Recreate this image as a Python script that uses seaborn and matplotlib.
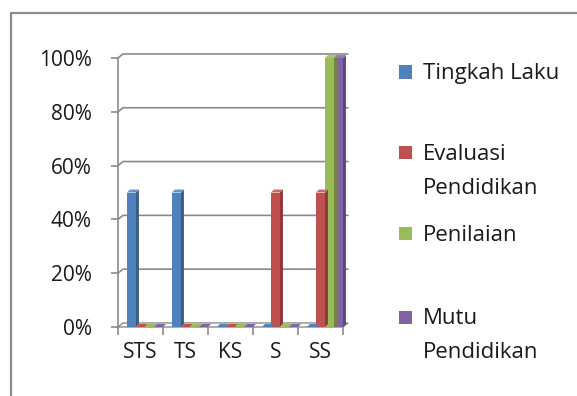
import matplotlib
matplotlib.use("Agg")
import matplotlib.pyplot as plt
from matplotlib.lines import Line2D
from matplotlib.patches import Polygon, Rectangle
from matplotlib.colors import to_rgb
import numpy as np
import pandas as pd
import seaborn as sns

# Survey answers per category (percent of respondents)
categories = ["STS", "TS", "KS", "S", "SS"]
series_names = ["Tingkah Laku", "Evaluasi\nPendidikan", "Penilaian", "Mutu\nPendidikan"]
tingkah_laku = [50, 50, 0, 0, 0]
evaluasi_pendidikan = [0, 0, 0, 50, 50]
penilaian = [0, 0, 0, 0, 100]
mutu_pendidikan = [0, 0, 0, 0, 100]
series_values = [tingkah_laku, evaluasi_pendidikan, penilaian, mutu_pendidikan]
colors = ["#4F81BD", "#C0504D", "#9BBB59", "#8064A2"]
y_ticks = [0, 20, 40, 60, 80, 100]
y_tick_labels = [f"{v}%" for v in y_ticks]

rows = []
for name, vals in zip(series_names, series_values):
    for cat, v in zip(categories, vals):
        rows.append({"kategori": cat, "nilai": v, "seri": name})
df = pd.DataFrame(rows)

sns.set_theme(style="white")
plt.rcParams["font.family"] = ["Open Sans", "DejaVu Sans"]

W, H = 577, 396
fig = plt.figure(figsize=(W / 100, H / 100), dpi=100)
fig.patch.set_facecolor("white")

# plot area in pixels
ax_l, ax_r, ax_t, ax_b = 118, 343, 58, 327
ax = fig.add_axes([ax_l / W, 1 - ax_b / H, (ax_r - ax_l) / W, (ax_b - ax_t) / H])
ax.set_facecolor("none")

sns.barplot(data=df, x="kategori", y="nilai", hue="seri", hue_order=series_names,
            order=categories, palette=colors, saturation=1, width=0.8,
            dodge=True, legend=False, ax=ax, zorder=3)

ax.set_xlim(-0.5, len(categories) - 0.5)
ax.set_ylim(0, 100)

grid_col = "#8a8a8a"
text_col = "#1a1a1a"
# depth of the back wall / floor (data units)
DX, DY = 0.11, 1.5
# depth of each column and its offset into the floor
bdx, bdy = 0.065, 1.1
shift = 0.1

def shade(c, f):
    r = np.array(to_rgb(c))
    return tuple(np.clip(r * f, 0, 1))

def tint(c, f):
    r = np.array(to_rgb(c))
    return tuple(np.clip(r + (1 - r) * f, 0, 1))

x_lo, x_hi = -0.5, len(categories) - 0.5

# floor
floor = Polygon([(x_lo, 0), (x_lo + DX, DY), (x_hi + DX, DY), (x_hi, 0)],
                closed=True, facecolor="white", edgecolor=grid_col,
                linewidth=1.0, clip_on=False, zorder=1)
ax.add_patch(floor)

# back-wall gridlines
for yv in y_ticks[1:]:
    ax.add_line(Line2D([x_lo, x_lo + DX, x_hi + DX], [yv, yv + DY, yv + DY],
                       color=grid_col, linewidth=1.2, clip_on=False, zorder=1))

# 3D faces for every column
for p in list(ax.patches):
    if not isinstance(p, Rectangle) or p is floor:
        continue
    p.set_x(p.get_x() + shift)
    x0, w, h = p.get_x(), p.get_width(), p.get_height()
    fc = p.get_facecolor()
    p.set_edgecolor("none")
    side = Polygon([(x0 + w, 0), (x0 + w + bdx, bdy), (x0 + w + bdx, h + bdy), (x0 + w, h)],
                   closed=True, facecolor=shade(fc, 0.72), edgecolor="none",
                   clip_on=False, zorder=3)
    top = Polygon([(x0, h), (x0 + bdx, h + bdy), (x0 + w + bdx, h + bdy), (x0 + w, h)],
                  closed=True, facecolor=tint(fc, 0.15) if h > 0 else fc,
                  edgecolor="none", clip_on=False, zorder=3)
    ax.add_patch(side)
    ax.add_patch(top)
    p.set_clip_on(False)

for s in ax.spines.values():
    s.set_visible(False)
ax.add_line(Line2D([x_lo, x_lo], [0, 100], color=grid_col, linewidth=1.2,
                   clip_on=False, zorder=2))

ax.set_yticks(y_ticks)
ax.set_yticklabels(y_tick_labels)
ax.set_xticks(range(len(categories)))
ax.set_xticklabels(categories)
ax.set_xticks(np.arange(len(categories) + 1) - 0.5, minor=True)
ax.tick_params(axis="y", which="major", left=True, length=5, width=1.2,
               color=grid_col, pad=14, labelsize=15, labelcolor=text_col)
ax.tick_params(axis="x", which="major", bottom=True, length=0, pad=11,
               labelsize=15, labelcolor=text_col)
ax.tick_params(axis="x", which="minor", bottom=True, length=6, width=1.2,
               color=grid_col)
ax.set_xlabel("")
ax.set_ylabel("")

# legend
sq = 13
text_x = 423
first_line_centres = [72, 152, 233, 317]
pitch = 34
for name, col, yc in zip(series_names, colors, first_line_centres):
    fig.add_artist(Rectangle(((text_x - 24) / W, 1 - (yc + sq / 2) / H), sq / W, sq / H,
                             transform=fig.transFigure, facecolor=col,
                             edgecolor="none"))
    for k, line in enumerate(name.split("\n")):
        fig.text(text_x / W, 1 - (yc + 7.5 + k * pitch) / H, line,
                 fontsize=16, color=text_col, va="baseline", ha="left")

# outer frame
frame_col = "#8c8c8c"
fig.add_artist(Line2D([11 / W, 11 / W], [1 - 13 / H, 0], transform=fig.transFigure,
                      color=frame_col, linewidth=1.6))
fig.add_artist(Line2D([11 / W, 1], [1 - 13 / H, 1 - 13 / H], transform=fig.transFigure,
                      color=frame_col, linewidth=1.6))

fig.savefig("out.png", dpi=100)
